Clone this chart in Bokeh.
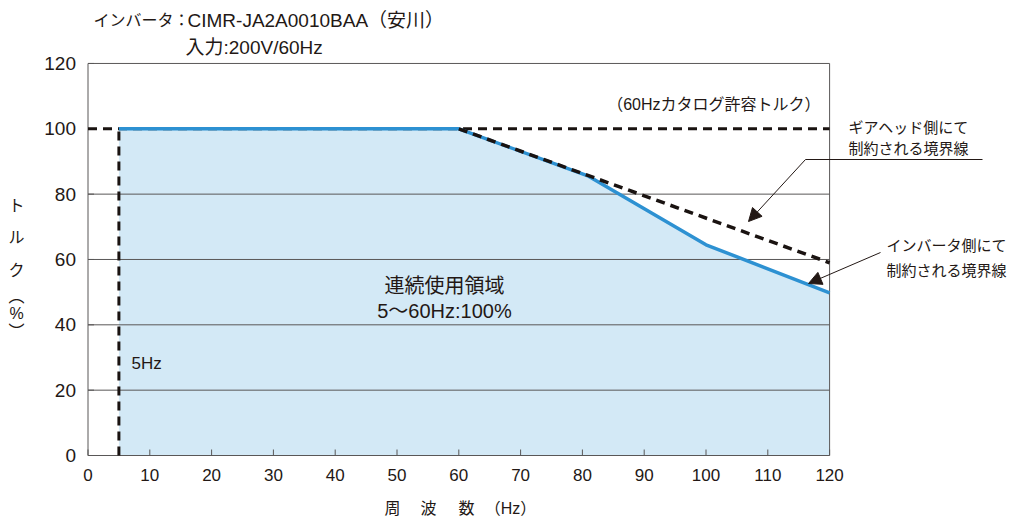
import math
from bokeh.plotting import figure
from bokeh.models import Range1d, Label, Arrow, NormalHead
from bokeh.core.properties import value
from bokeh.embed import file_html
from bokeh.resources import INLINE

# ---- data ----
x_ticks = list(range(0, 121, 10))
y_ticks = list(range(0, 121, 20))
grid_levels = [0, 20, 40, 60, 80, 120]
frame_x = [0, 120]

inv_freq = [5, 60, 81, 100, 120]          # inverter-limited boundary (Hz)
inv_torque = [100, 100, 85.5, 64.5, 49.8]  # torque (%)

gear_freq = [60, 120]                      # gearhead-limited boundary
gear_torque = [100, 59]

catalog_freq = [0, 120]                    # 60Hz catalog allowable torque
catalog_torque = [100, 100]

min_freq = [5, 5]                          # 5Hz lower limit
min_torque = [0, 100]

FONT = "'Liberation Sans', 'Noto Sans CJK JP', sans-serif"
TXT = "#231815"
GRID = "#595757"
BLUE = "#2d91d2"
FILL = "#d3e9f6"
DASH = "#1a1311"

W, H = 1022, 518
# pixel -> data mapping (plot frame: x 0..120 at px 87.5..829, y 0..120 at px 455..63)
X0, SX = 87.5, 6.18
Y0, SY = 455.0, 3.267


def dx(px):
    return (px - X0) / SX


def dy(py):
    return (Y0 - py) / SY


p = figure(width=W, height=H, min_border=0,
           x_range=Range1d(dx(0), dx(W)), y_range=Range1d(dy(H), dy(0)),
           x_axis_location=None, y_axis_location=None,
           output_backend="svg", toolbar_location=None)
p.outline_line_color = None
p.background_fill_color = "white"
p.border_fill_color = "white"
p.grid.visible = False

x_lo, x_hi = x_ticks[0], x_ticks[-1]
y_lo, y_hi = y_ticks[0], y_ticks[-1]

# ---- marks ----
p.varea(x=inv_freq, y1=0, y2=inv_torque, fill_color=FILL)

# frame / grid lines
p.segment(x0=x_lo, y0=grid_levels, x1=x_hi, y1=grid_levels,
          line_color=GRID, line_width=1)
p.segment(x0=frame_x, y0=y_lo, x1=frame_x, y1=y_hi,
          line_color=GRID, line_width=1)

# inner ticks
p.ray(x=x_ticks, y=y_lo, length=6, length_units="screen", angle=math.pi / 2,
      line_color=GRID, line_width=1)
p.ray(x=x_lo, y=y_ticks, length=6, length_units="screen", angle=0,
      line_color=GRID, line_width=1)

# tick labels
p.text(x=x_ticks, y=y_lo, text=[str(t) for t in x_ticks], y_offset=19,
       text_font=value(FONT), text_font_size="17px", text_color=TXT,
       text_align="center", text_baseline="middle")
p.text(x=x_lo, y=y_ticks, text=[str(t) for t in y_ticks], x_offset=-12,
       text_font=value(FONT), text_font_size="19px", text_color=TXT,
       text_align="right", text_baseline="middle")

p.line(catalog_freq, catalog_torque, line_color=DASH, line_width=3,
       line_dash="9 6")
p.line(min_freq, min_torque, line_color=DASH, line_width=3,
       line_dash="9 6")
p.line(inv_freq, inv_torque, line_color=BLUE, line_width=3.5)
p.line(gear_freq, gear_torque, line_color=DASH, line_width=3.5,
       line_dash="9 6")


def lab(text, px, py, size, align="left"):
    p.add_layout(Label(x=dx(px), y=dy(py), text=text, text_font=FONT,
                       text_font_size=f"{size}px", text_color=TXT,
                       text_align=align, text_baseline="middle"))


lab("インバータ：", 189, 20, 16, "right")
lab("CIMR-JA2A0010BAA（安川）", 187, 20, 19)
lab("入力:200V/60Hz", 185, 47, 19)
lab("（60Hzカタログ許容トルク）", 820, 104, 16, "right")
lab("ギアヘッド側にて", 848, 127, 15)
lab("制約される境界線", 848, 148, 15)
lab("インバータ側にて", 886, 245, 15)
lab("制約される境界線", 886, 270, 15)
lab("連続使用領域", 444, 285, 20, "center")
lab("5〜60Hz:100%", 444, 310, 20, "center")
lab("5Hz", 131, 363, 17)

for ch, py in [("ト", 205), ("ル", 237), ("ク", 270), ("︵", 296),
               ("%", 313), ("︶", 331)]:
    lab(ch, 16, py, 16, "center")

for ch, px in [("周", 392), ("波", 428), ("数", 466), ("（Hz）", 510)]:
    lab(ch, px, 508, 16, "center")

# leader lines
p.add_layout(Arrow(end=None, x_start=dx(982), y_start=dy(159),
                   x_end=dx(805), y_end=dy(159),
                   line_color=TXT, line_width=1))
p.add_layout(Arrow(end=NormalHead(size=13, fill_color=TXT,
                                  line_color=TXT, line_width=1),
                   x_start=dx(805), y_start=dy(159),
                   x_end=dx(748), y_end=dy(221),
                   line_color=TXT, line_width=1))
p.add_layout(Arrow(end=NormalHead(size=13, fill_color=TXT,
                                  line_color=TXT, line_width=1),
                   x_start=dx(880), y_start=dy(252),
                   x_end=dx(808), y_end=dy(283),
                   line_color=TXT, line_width=1))

open("out.html", "w").write(file_html(p, INLINE))
